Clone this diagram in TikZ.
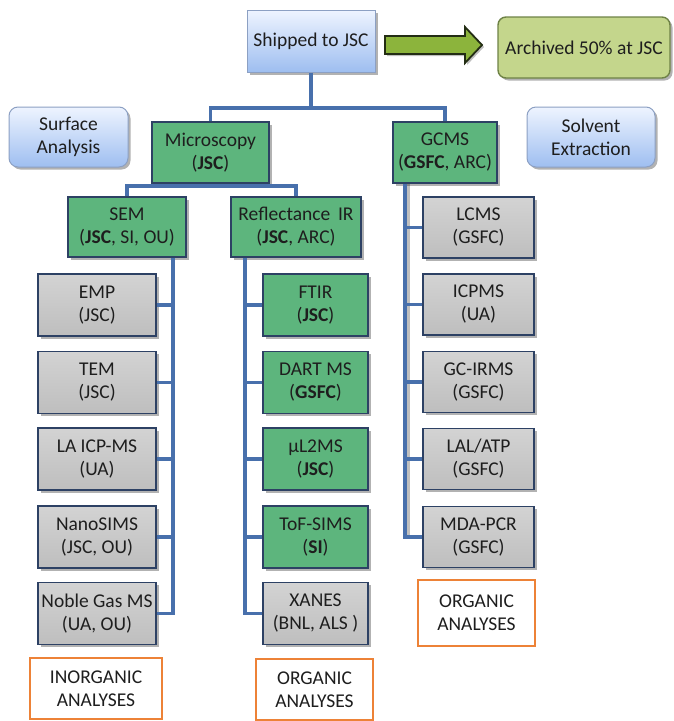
\documentclass[tikz,border=0pt]{standalone}
\usepackage{fontspec}
\setmainfont{Carlito}
\usetikzlibrary{shadows}
\definecolor{txt}{RGB}{30,30,30}
\definecolor{gfill}{RGB}{93,181,125}
\definecolor{grfill}{RGB}{200,200,200}
\definecolor{bord}{RGB}{45,65,100}
\definecolor{conn}{RGB}{72,112,172}
\definecolor{orng}{RGB}{237,130,55}
\definecolor{bltop}{RGB}{238,244,255}
\definecolor{blbot}{RGB}{158,190,240}
\definecolor{blbord}{RGB}{140,160,195}
\definecolor{archf}{RGB}{196,214,140}
\definecolor{archb}{RGB}{110,130,70}
\definecolor{arrf}{RGB}{140,180,60}
\definecolor{arrb}{RGB}{35,45,20}
\tikzset{
  base/.style={font=\fontsize{19.5}{23}\selectfont, text=txt, align=center, inner sep=2pt},
  shad/.style={drop shadow={shadow xshift=2.5pt, shadow yshift=-2.5pt, opacity=0.3, fill=black}},
  greenbox/.style={base, shad, draw=bord, line width=1.9pt, fill=gfill},
  graybox/.style={base, shad, draw=bord, line width=1.9pt, top color=grfill!80!white, bottom color=grfill!95!black},
  bluebox/.style={base, shad, draw=blbord, line width=1pt, top color=bltop, bottom color=blbot},
  orangebox/.style={base, draw=orng, line width=2.4pt, fill=white},
  link/.style={draw=conn, line width=3.2pt},
  linkshadow/.style={draw=black, opacity=0.25, line width=3.5pt},
}
\begin{document}
\begin{tikzpicture}[x=1pt,y=-1pt]
\useasboundingbox (0,0) rectangle (673,721);

% top row
\node[bluebox, minimum width=128, minimum height=62] (ship) at (311,41) {Shipped to JSC};
\node[base, shad, draw=archb, line width=1.4pt, fill=archf, rounded corners=8pt, minimum width=172, minimum height=61] (arch) at (584,47.5) {Archived 50\% at JSC};

% block arrow
\coordinate (aw) at (385,45);
\coordinate (ae) at (482,45);
\fill[black, opacity=0.25] ([xshift=2pt,yshift=-2pt]aw) ++(0,-9) -- ++(80,0) -- ++(0,-9) -- ([xshift=2pt,yshift=-2pt]ae) -- ++(-17,18) -- ++(0,-9) -- ++(-80,0) -- cycle;
\draw[fill=arrf, draw=arrb, line width=1.8pt, line join=miter] (aw) ++(0,-9) -- ++(80,0) -- ++(0,-9) -- (ae) -- ++(-17,18) -- ++(0,-9) -- ++(-80,0) -- cycle;

% second row
\node[bluebox, rounded corners=9pt, minimum width=119, minimum height=60] (surf) at (68.5,137) {Surface\\Analysis};
\node[bluebox, rounded corners=9pt, minimum width=128, minimum height=60] (solv) at (591,137) {Solvent\\Extraction};
\node[greenbox, minimum width=117, minimum height=61] (micro) at (210.5,152.5) {Microscopy\\(\textbf{JSC})};
\node[greenbox, minimum width=104, minimum height=61] (gcms) at (445,152.5) {GCMS\\(\textbf{GSFC}, ARC)};

% third row
\node[greenbox, minimum width=118, minimum height=60] (sem) at (127,227) {SEM\\(\textbf{JSC}, SI, OU)};
\node[greenbox, minimum width=130, minimum height=60] (refl) at (296,227) {Reflectance\, IR\\(\textbf{JSC}, ARC)};

% left column
\node[graybox, minimum width=118, minimum height=62] (emp) at (97,305) {EMP\\(JSC)};
\node[graybox, minimum width=118, minimum height=62] (tem) at (97,382.5) {TEM\\(JSC)};
\node[graybox, minimum width=118, minimum height=62] (laicp) at (97,459) {LA ICP-MS\\(UA)};
\node[graybox, minimum width=118, minimum height=62] (nano) at (97,537) {NanoSIMS\\(JSC, OU)};
\node[graybox, minimum width=118, minimum height=62] (noble) at (97,613.5) {Noble Gas MS\\(UA, OU)};
\node[orangebox, minimum width=132, minimum height=61] (inorg) at (96,688.5) {INORGANIC\\ANALYSES};

% middle column
\node[greenbox, minimum width=105, minimum height=62] (ftir) at (315.5,305) {FTIR\\(\textbf{JSC})};
\node[greenbox, minimum width=105, minimum height=62] (dart) at (315.5,382.5) {DART MS\\(\textbf{GSFC})};
\node[greenbox, minimum width=105, minimum height=62] (ul2ms) at (315.5,459) {µL2MS\\(\textbf{JSC})};
\node[greenbox, minimum width=105, minimum height=62] (tof) at (315.5,537) {ToF-SIMS\\(\textbf{SI})};
\node[graybox, minimum width=105, minimum height=62] (xanes) at (315.5,613.5) {XANES\\(BNL, ALS )};
\node[orangebox, minimum width=117, minimum height=61] (org1) at (314.5,689.5) {ORGANIC\\ANALYSES};

% right column
\node[graybox, minimum width=111, minimum height=61] (lcms) at (478.5,227.5) {LCMS\\(GSFC)};
\node[graybox, minimum width=111, minimum height=61] (icpms) at (478.5,304.5) {ICPMS\\(UA)};
\node[graybox, minimum width=111, minimum height=61] (gcirms) at (478.5,382) {GC-IRMS\\(GSFC)};
\node[graybox, minimum width=111, minimum height=61] (lal) at (478.5,459) {LAL/ATP\\(GSFC)};
\node[graybox, minimum width=111, minimum height=61] (mda) at (478.5,537) {MDA-PCR\\(GSFC)};
\node[orangebox, minimum width=117, minimum height=66] (org2) at (476.5,613) {ORGANIC\\ANALYSES};

% connector helpers
\coordinate (topbar) at (0,108);
\coordinate (midbar) at (0,186);
\coordinate (semtr) at (173,0);
\coordinate (refltr) at (245,0);
\coordinate (gcmstr) at (405,0);
\coordinate (gcmssh) at (408,0);

% shadow of the GCMS trunk
\draw[linkshadow] (gcmssh |- gcms.south) -- (gcmssh |- mda);

% connectors
\draw[link] (ship.south) -- (ship.south |- topbar);
\draw[link] (micro.north) -- (micro.north |- topbar) -- (gcms.north |- topbar) -- (gcms.north);
\draw[link] (sem.north) -- (sem.north |- midbar) -- (refl.north |- midbar) -- (refl.north);

\draw[link] (semtr |- sem.south) -- (semtr |- noble) -- (noble.east);
\foreach \c in {emp,tem,laicp,nano} \draw[link] (semtr |- \c) -- (\c.east);

\draw[link] (refltr |- refl.south) -- (refltr |- xanes) -- (xanes.west);
\foreach \c in {ftir,dart,ul2ms,tof} \draw[link] (refltr |- \c) -- (\c.west);

\draw[link] (gcmstr |- gcms.south) -- (gcmstr |- mda) -- (mda.west);
\foreach \c in {lcms,icpms,gcirms,lal} \draw[link] (gcmstr |- \c) -- (\c.west);
\end{tikzpicture}
\end{document}
